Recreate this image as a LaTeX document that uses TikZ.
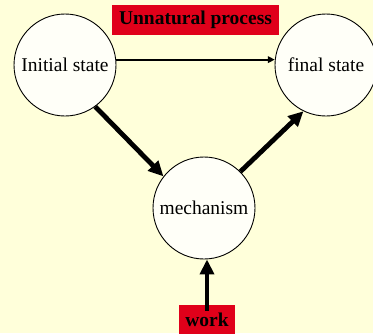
\documentclass[tikz,border=0pt]{standalone}
\usepackage{fontspec}
\setmainfont{Liberation Serif}
\usetikzlibrary{arrows.meta}
\definecolor{paper}{RGB}{255,255,218}
\definecolor{bubble}{RGB}{255,255,248}
\definecolor{tag}{RGB}{224,0,26}
\tikzset{
  statenode/.style={circle,draw=black,line width=0.9pt,fill=bubble,
    minimum size=102pt,inner sep=0pt,
    font=\fontsize{19.5}{22}\selectfont},
  tagnode/.style={fill=tag,inner sep=0pt,font=\fontsize{19.5}{22}\selectfont\bfseries},
  thinarrow/.style={line width=2pt,-{Triangle[length=7pt,width=6.5pt]}},
  thickarrow/.style={line width=4.8pt,-{Triangle[length=15pt,width=14pt]}}
}
\begin{document}
\begin{tikzpicture}[x=1pt,y=-1pt]
  \fill[paper] (0,0) rectangle (373,333);
  \useasboundingbox (0,0) rectangle (373,333);

  % the three states of the process
  \node[statenode] (init) at (65,65) {Initial state};
  \node[statenode] (final) at (326,65) {final state};
  \node[statenode] (mech) at (204,208) {mechanism};

  % red tags
  \node[tagnode,minimum width=167pt,minimum height=30pt] (unnat) at (195.5,20) {Unnatural process};
  \node[tagnode,minimum width=56pt,minimum height=30pt] (work) at (207,320) {work};

  % connectors
  \draw[thinarrow] (init.6) -- (final.174);
  \draw[thickarrow] (init.-54) -- (mech.142);
  \draw[thickarrow] (mech.45) -- (final.-116);
  \draw[thickarrow] ([yshift=-6pt]work.north) -- (work.north |- mech.south);
\end{tikzpicture}
\end{document}
